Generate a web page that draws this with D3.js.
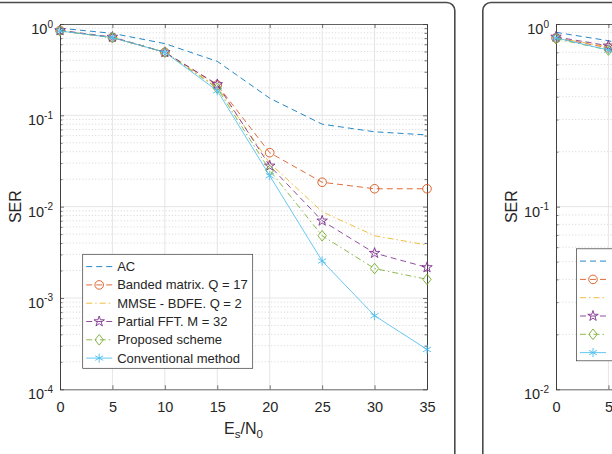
<!DOCTYPE html>
<html>
<head>
<meta charset="utf-8">
<script src="https://cdn.jsdelivr.net/npm/d3@7"></script>
<style>
  html, body { margin: 0; padding: 0; background: #fff; }
  svg { display: block; font-family: "Liberation Sans", Arial, Helvetica, sans-serif; }
</style>
</head>
<body>
<svg id="chart" width="612" height="454"></svg>
<script>
// ---------------- data ----------------
const seriesNames = ["AC", "Banded matrix. Q = 17", "MMSE - BDFE. Q = 2", "Partial FFT. M = 32", "Proposed scheme", "Conventional method"];
const snr = [0, 5, 10, 15, 20, 25, 30, 35];
const serAC       = [0.90, 0.79, 0.61, 0.39, 0.154, 0.080, 0.066, 0.061];
const serBanded   = [0.85, 0.71, 0.49, 0.215, 0.039, 0.0185, 0.0157, 0.0157];
const serMMSE     = [0.84, 0.71, 0.49, 0.205, 0.030, 0.0088, 0.0048, 0.0038];
const serPartial  = [0.85, 0.72, 0.49, 0.218, 0.028, 0.0070, 0.0031, 0.00216];
const serProposed = [0.84, 0.71, 0.49, 0.198, 0.025, 0.0048, 0.0021, 0.0016];
const serConv     = [0.84, 0.71, 0.49, 0.186, 0.0218, 0.00254, 0.00064, 0.000273];

// second (cropped) panel, only the visible part
const snr2 = [0, 5, 10];
const serAC2       = [0.90, 0.81, 0.70];
const serBanded2   = [0.84, 0.74, 0.60];
const serMMSE2     = [0.84, 0.75, 0.61];
const serPartial2  = [0.85, 0.76, 0.62];
const serProposed2 = [0.83, 0.72, 0.56];
const serConv2     = [0.84, 0.72, 0.56];

const xTicks = [0, 5, 10, 15, 20, 25, 30, 35];
const xTickLabels1 = ["0", "5", "10", "15", "20", "25", "30", "35"];
const xTickLabels2 = ["0", "5"];   // the rest of the second panel lies outside the picture
const yTicks1 = [1e-4, 1e-3, 1e-2, 1e-1, 1];
const yTicks2 = [1e-2, 1e-1, 1];

// ---------------- styles ----------------
const colors = ["#0072BD", "#D95319", "#EDB120", "#7E2F8E", "#77AC30", "#4DBEEE"];
const dashes = ["6,4", "6,4", "6,3,1.5,3", "6,4", "6,3,1.5,3", null];
const markers = [null, "circle", null, "star", "diamond", "asterisk"];

const svg = d3.select("#chart");

// panel frames
svg.append("rect").attr("x", -10).attr("y", 2.5).attr("width", 464.8).attr("height", 520)
  .attr("rx", 8).attr("fill", "none").attr("stroke", "#4a4a4a").attr("stroke-width", 1.6);
svg.append("rect").attr("x", 482.8).attr("y", 2.5).attr("width", 300).attr("height", 520)
  .attr("rx", 8).attr("fill", "none").attr("stroke", "#4a4a4a").attr("stroke-width", 1.6);

function markerPath(type) {
  if (type === "circle") return d3.symbol(d3.symbolCircle, Math.PI * 4.3 * 4.3)();
  if (type === "star") return d3.symbol(d3.symbolStar, 34)();
  if (type === "diamond") { const w = 4.2, h = 5.3; return `M0,${-h}L${w},0L0,${h}L${-w},0Z`; }
  if (type === "asterisk") {
    const r = 4.6, a = r * Math.cos(Math.PI / 6), b = r * Math.sin(Math.PI / 6);
    return `M0,${-r}L0,${r}M${-a},${-b}L${a},${b}M${-a},${b}L${a},${-b}`;
  }
  return null;
}

function superLabel(sel, v) {
  const e = Math.round(Math.log10(v));
  sel.text(null);
  sel.append("tspan").text("10");
  sel.append("tspan").attr("font-size", "10px").attr("dy", "-6.5").text(String(e));
}

function drawPanel(opts) {
  const { x0, x1, ymin, yTicks, xs, ys, legendX, legendY, legendH, xLabels, showXLabel, showLegendText } = opts;
  const top = 24, bottom = 389.3;
  const x = d3.scaleLinear().domain([0, 35]).range([x0, x1]);
  const y = d3.scaleLog().domain([ymin, 1]).range([bottom, top]);
  const g = svg.append("g");

  const minor = [];
  for (let d = Math.round(Math.log10(ymin)); d < 0; d++) {
    for (let k = 2; k <= 9; k++) minor.push(k * Math.pow(10, d));
  }
  // grid
  g.append("g").selectAll("line").data(minor).join("line")
    .attr("x1", x0).attr("x2", x1).attr("y1", d => y(d)).attr("y2", d => y(d))
    .attr("stroke", "#c4c4c4").attr("stroke-width", 0.7).attr("stroke-dasharray", "1,2.2");
  g.append("g").selectAll("line").data(yTicks.slice(1, -1)).join("line")
    .attr("x1", x0).attr("x2", x1).attr("y1", d => y(d)).attr("y2", d => y(d))
    .attr("stroke", "#dedede").attr("stroke-width", 0.8);
  g.append("g").selectAll("line").data(xTicks.slice(1, -1)).join("line")
    .attr("x1", d => x(d)).attr("x2", d => x(d)).attr("y1", top).attr("y2", bottom)
    .attr("stroke", "#dedede").attr("stroke-width", 0.8);

  // axes
  const axColor = "#3a3a3a";
  const styleAxis = s => { s.select(".domain").attr("stroke", axColor).attr("stroke-width", 0.8);
    s.selectAll(".tick line").attr("stroke", axColor).attr("stroke-width", 0.7); };
  const bottomAx = g.append("g").attr("transform", `translate(0,${bottom})`)
    .call(d3.axisBottom(x).tickValues(xTicks).tickSize(-4).tickPadding(12).tickSizeOuter(0)
      .tickFormat((d, i) => i < xLabels.length ? xLabels[i] : ""));
  bottomAx.call(styleAxis);
  bottomAx.selectAll("text").attr("font-size", "14.5px").attr("fill", "#262626")
    .attr("font-family", "Liberation Sans, Arial, sans-serif");
  bottomAx.selectAll(".tick").filter((d, i) => i >= xLabels.length).select("text").remove();
  g.append("g").attr("transform", `translate(0,${top})`)
    .call(d3.axisTop(x).tickValues(xTicks).tickSize(-4).tickFormat("").tickSizeOuter(0)).call(styleAxis);
  const leftAx = g.append("g").attr("transform", `translate(${x0},0)`)
    .call(d3.axisLeft(y).tickValues(yTicks).tickSize(-4).tickPadding(7).tickSizeOuter(0));
  leftAx.call(styleAxis);
  leftAx.selectAll("text").attr("font-size", "14.5px").attr("fill", "#262626").attr("dy", "9.5")
    .attr("font-family", "Liberation Sans, Arial, sans-serif")
    .each(function(d) { superLabel(d3.select(this), d); });
  g.append("g").attr("transform", `translate(${x0},0)`)
    .call(d3.axisLeft(y).tickValues(minor).tickSize(-2.5).tickFormat("").tickSizeOuter(0)).call(styleAxis);
  g.append("g").attr("transform", `translate(${x1},0)`)
    .call(d3.axisRight(y).tickValues(yTicks).tickSize(-4).tickFormat("").tickSizeOuter(0)).call(styleAxis);
  g.append("g").attr("transform", `translate(${x1},0)`)
    .call(d3.axisRight(y).tickValues(minor).tickSize(-2.5).tickFormat("").tickSizeOuter(0)).call(styleAxis);

  // labels
  g.append("text").attr("transform", `translate(${x0 - 39},${(top + bottom) / 2}) rotate(-90)`)
    .attr("text-anchor", "middle").attr("font-size", "16px").attr("fill", "#262626").text("SER");
  if (showXLabel) {
    const t = g.append("text").attr("x", (x0 + x1) / 2).attr("y", 433.5).attr("text-anchor", "middle")
      .attr("font-size", "16px").attr("fill", "#262626");
    t.append("tspan").text("E");
    t.append("tspan").attr("font-size", "11.5px").attr("dy", 4).text("s");
    t.append("tspan").attr("dy", -4).text("/N");
    t.append("tspan").attr("font-size", "11.5px").attr("dy", 4).text("0");
  }

  // series
  const line = d3.line().x(d => x(d[0])).y(d => y(d[1]));
  ys.forEach((vals, i) => {
    const pts = xs.map((v, j) => [v, vals[j]]);
    g.append("path").datum(pts).attr("d", line).attr("fill", "none")
      .attr("stroke", colors[i]).attr("stroke-width", 0.85)
      .attr("stroke-dasharray", dashes[i]);
    if (markers[i]) {
      g.append("g").selectAll("path").data(pts).join("path")
        .attr("transform", d => `translate(${x(d[0])},${y(d[1])})`)
        .attr("d", markerPath(markers[i])).attr("fill", "none")
        .attr("stroke", colors[i]).attr("stroke-width", 0.9);
    }
  });

  // legend
  const lg = g.append("g").attr("transform", `translate(${legendX},${legendY})`);
  lg.append("rect").attr("x", 0).attr("y", 0).attr("width", 170).attr("height", legendH)
    .attr("fill", "#fff").attr("stroke", "#3a3a3a").attr("stroke-width", 0.7);
  seriesNames.forEach((name, i) => {
    const yy = 12.3 + i * 18.3;
    lg.append("line").attr("x1", 3.5).attr("x2", 29.5).attr("y1", yy).attr("y2", yy)
      .attr("stroke", colors[i]).attr("stroke-width", 0.85).attr("stroke-dasharray", dashes[i]);
    if (markers[i]) {
      lg.append("path").attr("transform", `translate(16.5,${yy})`).attr("d", markerPath(markers[i]))
        .attr("fill", "none").attr("stroke", colors[i]).attr("stroke-width", 0.9);
    }
    if (showLegendText) {
      lg.append("text").attr("x", 34.5).attr("y", yy + 4.6).attr("font-size", "13px")
        .attr("fill", "#262626").text(name);
    }
  });
}

drawPanel({ x0: 60, x1: 427, ymin: 1e-4, yTicks: yTicks1, xs: snr,
  ys: [serAC, serBanded, serMMSE, serPartial, serProposed, serConv],
  legendX: 82.7, legendY: 254.3, legendH: 114, xLabels: xTickLabels1, showXLabel: true, showLegendText: true });
drawPanel({ x0: 556, x1: 923, ymin: 1e-2, yTicks: yTicks2, xs: snr2,
  ys: [serAC2, serBanded2, serMMSE2, serPartial2, serProposed2, serConv2],
  legendX: 576.5, legendY: 248.8, legendH: 112, xLabels: xTickLabels2, showXLabel: false, showLegendText: false });
</script>
</body>
</html>
